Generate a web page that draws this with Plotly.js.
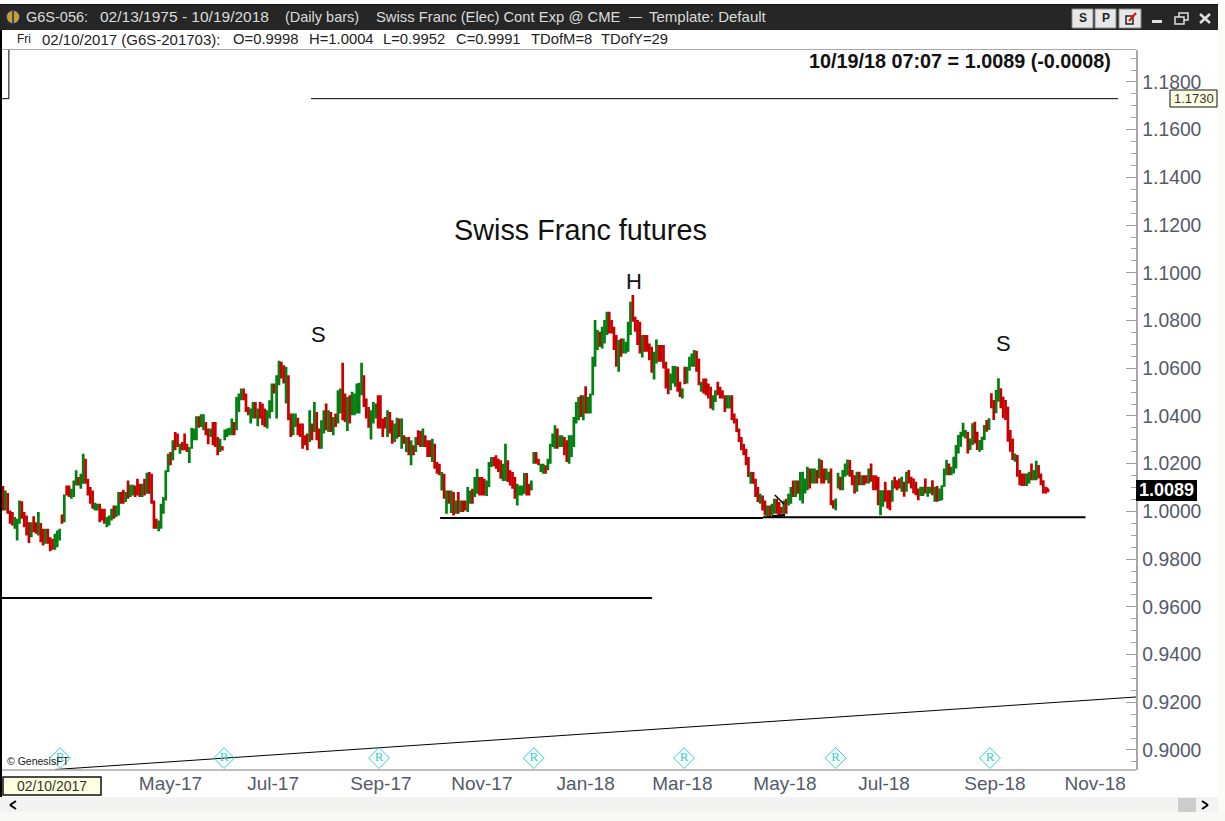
<!DOCTYPE html>
<html><head><meta charset="utf-8">
<script src="https://cdn.plot.ly/plotly-3.0.1.min.js"></script>
<style>html,body{margin:0;padding:0;background:#fff}#c{width:1225px;height:821px}</style>
</head><body><div id="c"></div>
<script>
const highs=[1.0106,1.0088,1.0077,1.0004,.9997,.9976,.9969,1.0046,1.0042,.9997,
.9983,.9955,.9955,.9980,.9955,.9997,.9951,.9927,.9927,.9927,
.9892,.9885,.9906,.9920,.9927,.9987,1.0071,1.0109,1.0109,1.0095,
1.0130,1.0172,1.0144,1.0158,1.0242,1.0221,1.0137,1.0102,1.0088,1.0036,
1.0032,1.0032,1.0011,1.0011,.9976,.9983,1.0011,1.0025,1.0025,1.0081,
1.0081,1.0091,1.0081,1.0130,1.0112,1.0112,1.0109,1.0137,1.0116,1.0116,
1.0137,1.0162,1.0165,1.0158,1.0046,.9969,.9962,1.0032,1.0060,1.0172,
1.0242,1.0249,1.0298,1.0333,1.0326,1.0284,1.0291,1.0326,1.0284,1.0270,
1.0351,1.0347,1.0399,1.0399,1.0407,1.0407,1.0375,1.0347,1.0347,1.0375,
1.0375,1.0312,1.0305,1.0273,1.0343,1.0347,1.0351,1.0389,1.0375,1.0480,
1.0494,1.0515,1.0515,1.0494,1.0438,1.0431,1.0459,1.0459,1.0431,1.0459,
1.0452,1.0431,1.0424,1.0466,1.0536,1.0536,1.0571,1.0631,1.0627,1.0613,
1.0606,1.0571,1.0410,1.0410,1.0410,1.0393,
1.0368,1.0368,1.0319,1.0326,1.0424,1.0368,1.0459,1.0417,1.0347,1.0382,
1.0424,1.0452,1.0424,1.0417,1.0396,1.0410,1.0508,1.0515,1.0623,1.0494,
1.0480,1.0487,1.0501,1.0494,1.0536,1.0539,1.0623,1.0571,1.0473,1.0438,
1.0424,1.0459,1.0452,1.0487,1.0487,1.0389,1.0396,1.0424,1.0417,1.0382,
1.0368,1.0393,1.0389,1.0389,1.0319,1.0312,1.0312,1.0298,1.0277,1.0312,
1.0340,1.0337,1.0347,1.0319,1.0298,1.0298,1.0305,1.0284,1.0207,1.0200,
1.0165,1.0158,1.0088,1.0088,1.0088,1.0081,1.0046,1.0081,1.0046,1.0046,
1.0046,1.0102,1.0088,1.0095,1.0144,1.0179,1.0144,1.0144,1.0137,1.0130,
1.0207,1.0228,1.0228,1.0235,1.0221,1.0214,1.0200,1.0284,1.0214,1.0172,
1.0165,1.0144,1.0116,1.0109,1.0109,1.0161,1.0161,1.0116,1.0130,1.0249,
1.0249,1.0221,1.0200,1.0200,1.0193,1.0221,1.0284,1.0326,1.0361,1.0347,
1.0319,1.0319,1.0312,1.0298,1.0319,
1.0319,1.0396,1.0459,1.0480,1.0487,1.0487,1.0525,1.0480,1.0494,1.0648,
1.0802,1.0760,1.0753,1.0774,1.0802,1.0837,1.0837,1.0802,1.0774,1.0739,
1.0718,1.0725,1.0725,1.0711,1.0795,1.0879,1.0907,1.0816,1.0802,1.0795,
1.0739,1.0739,1.0739,1.0704,1.0690,1.0669,1.0721,1.0697,1.0697,1.0697,
1.0627,1.0599,1.0578,1.0609,1.0609,1.0606,1.0543,1.0515,1.0606,1.0606,
1.0648,1.0662,1.0676,1.0673,1.0641,1.0543,1.0557,1.0557,1.0536,1.0522,
1.0487,1.0508,1.0543,1.0522,1.0508,1.0487,1.0487,1.0487,1.0487,1.0410,
1.0389,1.0347,1.0312,1.0284,1.0263,1.0228,1.0165,1.0165,1.0137,1.0102,
1.0074,1.0067,1.0046,1.0025,1.0025,1.0032,1.0053,1.0053,1.0039,1.0018,
1.0046,1.0053,1.0074,1.0102,1.0130,1.0130,1.0130,1.0165,
1.0166,1.0138,1.0187,1.0180,1.0180,1.0180,1.0173,1.0222,1.0215,1.0180,
1.0180,1.0166,1.0180,1.0047,1.0054,1.0162,1.0145,1.0173,1.0201,1.0218,
1.0215,1.0173,1.0152,1.0166,1.0166,1.0152,1.0152,1.0152,1.0180,1.0201,
1.0152,1.0152,1.0145,1.0089,1.0089,1.0124,1.0089,1.0089,1.0131,1.0145,
1.0131,1.0138,1.0145,1.0124,1.0166,1.0173,1.0145,1.0138,1.0124,1.0096,
1.0103,1.0103,1.0138,1.0103,1.0103,1.0131,1.0103,1.0106,1.0096,1.0110,
1.0180,1.0215,1.0201,1.0187,1.0229,1.0278,1.0320,1.0334,1.0372,1.0341,
1.0334,1.0306,1.0369,1.0376,1.0334,1.0299,1.0313,1.0362,1.0383,1.0390,
1.0495,1.0467,1.0509,1.0558,1.0516,1.0481,1.0467,1.0439,1.0341,1.0306,
1.0243,1.0236,1.0173,1.0159,1.0159,1.0159,1.0166,1.0201,1.0173,1.0212,
1.0194,1.0159,1.0131,1.0103,1.0096];
const lows=[1.0004,1.0004,.9990,.9948,.9941,.9927,.9878,.9948,.9969,.9934,
.9899,.9867,.9892,.9913,.9906,.9899,.9871,.9857,.9864,.9864,
.9833,.9839,.9839,.9850,.9878,.9948,.9955,1.0067,1.0060,1.0053,
1.0060,1.0109,1.0109,1.0095,1.0116,1.0116,1.0067,1.0032,1.0011,1.0004,
1.0004,.9955,.9962,.9948,.9934,.9941,.9962,.9969,.9976,.9983,
1.0032,1.0032,1.0039,1.0053,1.0060,1.0067,1.0060,1.0067,1.0060,1.0060,
1.0067,1.0074,1.0074,1.0032,.9927,.9927,.9917,.9927,.9990,1.0046,
1.0165,1.0193,1.0214,1.0256,1.0270,1.0242,1.0256,1.0256,1.0249,1.0203,
1.0263,1.0298,1.0298,1.0351,1.0354,1.0340,1.0319,1.0281,1.0312,1.0277,
1.0270,1.0235,1.0249,1.0256,1.0298,1.0312,1.0319,1.0319,1.0319,1.0340,
1.0417,1.0466,1.0466,1.0417,1.0403,1.0368,1.0389,1.0389,1.0357,1.0389,
1.0361,1.0354,1.0347,1.0389,1.0417,1.0494,1.0389,1.0529,1.0557,1.0536,
1.0452,1.0382,1.0312,1.0319,1.0354,1.0319,
1.0312,1.0263,1.0277,1.0256,1.0291,1.0298,1.0333,1.0298,1.0263,1.0263,
1.0326,1.0340,1.0333,1.0333,1.0319,1.0354,1.0368,1.0410,1.0382,1.0375,
1.0337,1.0368,1.0403,1.0403,1.0410,1.0410,1.0487,1.0438,1.0389,1.0351,
1.0301,1.0368,1.0389,1.0347,1.0347,1.0312,1.0347,1.0312,1.0326,1.0284,
1.0291,1.0305,1.0312,1.0263,1.0284,1.0249,1.0235,1.0193,1.0235,1.0249,
1.0277,1.0270,1.0270,1.0270,1.0228,1.0228,1.0207,1.0179,1.0158,1.0151,
1.0088,1.0053,.9990,1.0032,.9993,.9983,.9990,.9990,.9997,.9997,
1.0004,.9997,1.0032,1.0032,1.0060,1.0074,1.0067,1.0067,1.0067,1.0064,
1.0102,1.0186,1.0189,1.0179,1.0165,1.0137,1.0127,1.0127,1.0123,1.0109,
1.0095,1.0053,1.0025,1.0067,1.0067,1.0074,1.0067,1.0067,1.0088,1.0200,
1.0200,1.0193,1.0165,1.0158,1.0158,1.0172,1.0200,1.0270,1.0263,1.0263,
1.0270,1.0270,1.0235,1.0207,1.0200,
1.0228,1.0270,1.0368,1.0382,1.0396,1.0382,1.0410,1.0410,1.0410,1.0487,
1.0606,1.0676,1.0690,1.0683,1.0704,1.0739,1.0746,1.0746,1.0676,1.0606,
1.0585,1.0648,1.0662,1.0662,1.0669,1.0739,1.0795,1.0753,1.0697,1.0662,
1.0645,1.0669,1.0669,1.0634,1.0581,1.0553,1.0620,1.0627,1.0627,1.0599,
1.0515,1.0491,1.0508,1.0536,1.0522,1.0501,1.0480,1.0473,1.0533,1.0536,
1.0589,1.0606,1.0606,1.0585,1.0529,1.0501,1.0494,1.0487,1.0473,1.0431,
1.0424,1.0459,1.0487,1.0473,1.0473,1.0417,1.0431,1.0431,1.0382,1.0368,
1.0333,1.0291,1.0256,1.0235,1.0193,1.0144,1.0116,1.0116,1.0060,1.0039,
1.0032,1.0004,.9983,.9976,.9976,.9983,.9990,.9990,.9983,.9990,
.9990,.9990,1.0025,1.0032,1.0060,1.0060,1.0074,1.0046,
1.0033,1.0075,1.0089,1.0096,1.0117,1.0117,1.0117,1.0138,1.0117,1.0117,
1.0131,1.0117,1.0026,1.0012,1.0005,1.0096,1.0089,1.0089,1.0145,1.0152,
1.0145,1.0110,1.0075,1.0082,1.0110,1.0110,1.0110,1.0117,1.0117,1.0124,
1.0089,1.0089,1.0026,.9984,1.0019,1.0040,1.0012,1.0005,1.0040,1.0096,
1.0089,1.0096,1.0082,1.0061,1.0082,1.0117,1.0096,1.0075,1.0068,1.0047,
1.0064,1.0064,1.0075,1.0061,1.0075,1.0068,1.0040,1.0040,1.0044,1.0047,
1.0103,1.0152,1.0152,1.0152,1.0159,1.0180,1.0243,1.0271,1.0313,1.0306,
1.0243,1.0257,1.0278,1.0285,1.0257,1.0250,1.0257,1.0299,1.0334,1.0341,
1.0432,1.0383,1.0411,1.0460,1.0432,1.0390,1.0383,1.0292,1.0250,1.0215,
1.0208,1.0145,1.0110,1.0106,1.0106,1.0106,1.0117,1.0131,1.0131,1.0131,
1.0138,1.0110,1.0075,1.0075,1.0080];
const opens=[1.0095,1.0012,1.0068,.9996,.9985,.9935,.9900,.9960,1.0030,.9985,
.9970,.9940,.9900,.9970,.9945,.9915,.9940,.9915,.9875,.9915,
.9880,.9870,.9850,.9860,.9890,.9980,.9970,1.0100,1.0095,1.0065,
1.0070,1.0120,1.0135,1.0105,1.0135,1.0205,1.0125,1.0090,1.0075,1.0010,
1.0012,1.0020,1.0002,1.0000,.9942,.9950,.9970,1.0015,.9985,.9995,
1.0072,1.0080,1.0048,1.0118,1.0070,1.0075,1.0098,1.0125,1.0105,1.0070,
1.0125,1.0088,1.0155,1.0145,1.0030,.9960,.9925,.9940,1.0005,1.0060,
1.0178,1.0240,1.0225,1.0320,1.0315,1.0250,1.0282,1.0315,1.0275,1.0215,
1.0280,1.0305,1.0315,1.0390,1.0365,1.0350,1.0365,1.0335,1.0320,1.0360,
1.0365,1.0300,1.0258,1.0268,1.0305,1.0320,1.0325,1.0330,1.0365,1.0360,
1.0430,1.0475,1.0505,1.0480,1.0430,1.0378,1.0400,1.0450,1.0370,1.0448,
1.0440,1.0420,1.0358,1.0400,1.0435,1.0528,1.0410,1.0545,1.0618,1.0600,
1.0480,1.0555,1.0398,1.0330,1.0365,1.0382,
1.0358,1.0355,1.0310,1.0315,1.0310,1.0358,1.0355,1.0405,1.0335,1.0280,
1.0340,1.0440,1.0345,1.0405,1.0330,1.0400,1.0385,1.0425,1.0600,1.0480,
1.0350,1.0475,1.0415,1.0415,1.0430,1.0430,1.0505,1.0555,1.0460,1.0425,
1.0320,1.0380,1.0400,1.0475,1.0470,1.0378,1.0388,1.0325,1.0405,1.0370,
1.0305,1.0318,1.0378,1.0285,1.0310,1.0260,1.0300,1.0205,1.0268,1.0260,
1.0330,1.0325,1.0285,1.0310,1.0288,1.0285,1.0225,1.0270,1.0195,1.0190,
1.0100,1.0145,1.0010,1.0078,1.0010,1.0070,1.0000,1.0070,1.0005,1.0038,
1.0036,1.0015,1.0042,1.0085,1.0072,1.0090,1.0134,1.0132,1.0125,1.0075,
1.0120,1.0195,1.0220,1.0225,1.0212,1.0200,1.0140,1.0145,1.0205,1.0160,
1.0155,1.0130,1.0040,1.0077,1.0075,1.0085,1.0150,1.0108,1.0095,1.0210,
1.0240,1.0212,1.0172,1.0165,1.0185,1.0182,1.0215,1.0280,1.0275,1.0335,
1.0280,1.0280,1.0300,1.0285,1.0215,
1.0240,1.0290,1.0385,1.0395,1.0475,1.0395,1.0510,1.0420,1.0425,1.0505,
1.0630,1.0690,1.0740,1.0695,1.0720,1.0755,1.0825,1.0790,1.0762,1.0725,
1.0600,1.0715,1.0675,1.0670,1.0680,1.0760,1.0895,1.0805,1.0790,1.0780,
1.0660,1.0730,1.0728,1.0695,1.0680,1.0570,1.0635,1.0688,1.0688,1.0685,
1.0615,1.0585,1.0520,1.0550,1.0535,1.0595,1.0532,1.0485,1.0595,1.0550,
1.0600,1.0620,1.0620,1.0660,1.0630,1.0510,1.0548,1.0545,1.0525,1.0510,
1.0435,1.0470,1.0532,1.0512,1.0500,1.0475,1.0442,1.0445,1.0475,1.0402,
1.0380,1.0338,1.0303,1.0275,1.0250,1.0215,1.0125,1.0155,1.0125,1.0092,
1.0040,1.0056,1.0035,.9985,1.0015,.9992,1.0005,1.0042,1.0028,1.0012,
1.0002,1.0042,1.0035,1.0045,1.0120,1.0072,1.0120,1.0065,
1.0050,1.0085,1.0105,1.0170,1.0128,1.0130,1.0165,1.0150,1.0205,1.0170,
1.0140,1.0125,1.0170,1.0040,1.0015,1.0108,1.0135,1.0105,1.0155,1.0165,
1.0205,1.0162,1.0142,1.0095,1.0155,1.0118,1.0145,1.0143,1.0128,1.0190,
1.0142,1.0142,1.0135,1.0000,1.0030,1.0115,1.0080,1.0080,1.0055,1.0135,
1.0122,1.0130,1.0095,1.0115,1.0095,1.0162,1.0136,1.0128,1.0115,1.0088,
1.0072,1.0072,1.0128,1.0070,1.0082,1.0120,1.0050,1.0098,1.0055,1.0058,
1.0120,1.0165,1.0192,1.0160,1.0172,1.0200,1.0260,1.0285,1.0328,1.0315,
1.0322,1.0268,1.0295,1.0365,1.0325,1.0260,1.0268,1.0315,1.0375,1.0355,
1.0485,1.0455,1.0430,1.0475,1.0505,1.0470,1.0455,1.0425,1.0330,1.0295,
1.0215,1.0225,1.0165,1.0150,1.0150,1.0115,1.0125,1.0190,1.0140,1.0145,
1.0185,1.0150,1.0122,1.0095,1.0094];
const closes=[1.0015,1.0078,1.0000,.9956,.9950,.9968,.9960,1.0035,.9980,.9945,
.9910,.9878,.9945,.9922,.9915,.9985,.9880,.9868,.9918,.9875,
.9842,.9850,.9895,.9910,.9918,.9955,1.0060,1.0075,1.0068,1.0085,
1.0120,1.0160,1.0118,1.0145,1.0228,1.0125,1.0078,1.0042,1.0020,1.0028,
1.0025,.9965,.9972,.9958,.9968,.9975,1.0002,.9978,1.0016,1.0070,
1.0040,1.0042,1.0072,1.0062,1.0102,1.0104,1.0068,1.0075,1.0070,1.0105,
1.0076,1.0150,1.0085,1.0040,.9938,.9935,.9952,1.0020,1.0050,1.0158,
1.0232,1.0202,1.0285,1.0265,1.0280,1.0275,1.0265,1.0265,1.0258,1.0260,
1.0340,1.0338,1.0385,1.0360,1.0398,1.0395,1.0328,1.0292,1.0338,1.0288,
1.0280,1.0245,1.0295,1.0260,1.0335,1.0340,1.0342,1.0380,1.0330,1.0470,
1.0485,1.0505,1.0475,1.0425,1.0410,1.0420,1.0450,1.0398,1.0420,1.0398,
1.0372,1.0362,1.0415,1.0455,1.0525,1.0500,1.0560,1.0618,1.0565,1.0545,
1.0595,1.0395,1.0322,1.0400,1.0400,1.0328,
1.0320,1.0272,1.0285,1.0265,1.0412,1.0308,1.0448,1.0310,1.0272,1.0372,
1.0412,1.0350,1.0412,1.0340,1.0385,1.0362,1.0495,1.0505,1.0392,1.0385,
1.0470,1.0378,1.0490,1.0482,1.0525,1.0528,1.0612,1.0450,1.0398,1.0360,
1.0412,1.0450,1.0440,1.0358,1.0358,1.0320,1.0355,1.0412,1.0335,1.0295,
1.0358,1.0382,1.0320,1.0378,1.0292,1.0302,1.0245,1.0288,1.0242,1.0302,
1.0285,1.0280,1.0338,1.0278,1.0238,1.0236,1.0295,1.0188,1.0165,1.0160,
1.0155,1.0062,1.0078,1.0040,1.0075,.9992,1.0038,.9998,1.0038,1.0005,
1.0012,1.0090,1.0078,1.0042,1.0135,1.0168,1.0075,1.0075,1.0075,1.0122,
1.0198,1.0220,1.0195,1.0188,1.0172,1.0146,1.0190,1.0275,1.0130,1.0118,
1.0102,1.0062,1.0105,1.0100,1.0102,1.0150,1.0075,1.0075,1.0122,1.0242,
1.0208,1.0200,1.0192,1.0192,1.0165,1.0214,1.0272,1.0318,1.0352,1.0272,
1.0310,1.0310,1.0245,1.0215,1.0310,
1.0310,1.0385,1.0450,1.0470,1.0405,1.0472,1.0420,1.0470,1.0485,1.0640,
1.0790,1.0750,1.0700,1.0765,1.0792,1.0828,1.0755,1.0755,1.0685,1.0615,
1.0708,1.0660,1.0715,1.0702,1.0785,1.0868,1.0805,1.0760,1.0705,1.0670,
1.0728,1.0678,1.0678,1.0642,1.0590,1.0660,1.0712,1.0636,1.0636,1.0610,
1.0525,1.0500,1.0570,1.0600,1.0600,1.0510,1.0488,1.0510,1.0542,1.0598,
1.0640,1.0655,1.0668,1.0595,1.0540,1.0535,1.0502,1.0495,1.0482,1.0440,
1.0480,1.0500,1.0495,1.0482,1.0480,1.0425,1.0480,1.0480,1.0390,1.0376,
1.0342,1.0300,1.0265,1.0243,1.0202,1.0152,1.0160,1.0124,1.0068,1.0047,
1.0068,1.0012,.9992,1.0018,.9985,1.0025,1.0045,.9998,.9992,.9996,
1.0040,.9998,1.0068,1.0095,1.0068,1.0125,1.0082,1.0155,
1.0158,1.0130,1.0178,1.0105,1.0172,1.0172,1.0125,1.0214,1.0125,1.0125,
1.0172,1.0160,1.0035,1.0020,1.0045,1.0155,1.0098,1.0165,1.0192,1.0210,
1.0153,1.0118,1.0085,1.0158,1.0118,1.0145,1.0118,1.0125,1.0172,1.0132,
1.0098,1.0098,1.0035,1.0080,1.0080,1.0050,1.0020,1.0012,1.0122,1.0105,
1.0098,1.0105,1.0135,1.0070,1.0158,1.0125,1.0105,1.0085,1.0076,1.0055,
1.0095,1.0095,1.0085,1.0095,1.0095,1.0075,1.0095,1.0048,1.0088,1.0102,
1.0172,1.0208,1.0160,1.0180,1.0222,1.0270,1.0312,1.0326,1.0364,1.0335,
1.0252,1.0298,1.0360,1.0295,1.0265,1.0290,1.0305,1.0355,1.0342,1.0382,
1.0440,1.0392,1.0500,1.0550,1.0440,1.0398,1.0392,1.0300,1.0258,1.0222,
1.0235,1.0152,1.0118,1.0112,1.0112,1.0152,1.0158,1.0140,1.0165,1.0205,
1.0145,1.0118,1.0082,1.0080,1.0089];
const barIndex=highs.map((_,i)=>i);

const xTickIdx=[26,71,114.5,160.2,203,247,288,331.5,373.5,420.5,463];
const xTickLabels=['Mar-17','May-17','Jul-17','Sep-17','Nov-17','Jan-18','Mar-18','May-18','Jul-18','Sep-18','Nov-18'];
const rollIdx=[24.2,93.7,159.4,225,288.7,353,418.4];
const rollPrice=[.8966,.8966,.8966,.8966,.8966,.8966,.8966];
const topLineX=[130.6,472.7], topLineY=[1.1730,1.1730];
const bracketX=[-0.5,2.5,2.5], bracketY=[1.1730,1.1730,1.1934];
const neck1X=[185.3,322.2], neck1Y=[.9972,.9972];
const neck2X=[322.2,458.9], neck2Y=[.9975,.9975];
const lowLineX=[-0.5,275.1], lowLineY=[.9637,.9637];
const riseLineX=[22,480.3], riseLineY=[.8918,.9222];
const smallMarkX=[327.2,331], smallMarkY=[1.0069,1.0031];
const smallBaseX=[326,331.5], smallBaseY=[.9979,.9985];

const X=x=>(x-2)/1134, Y=y=>(770-y)/720;
const rect=(x0,y0,x1,y1,fill,line,w)=>({type:'rect',xref:'paper',yref:'paper',layer:'above',x0:X(x0),x1:X(x1),y0:Y(y0),y1:Y(y1),fillcolor:fill,line:{color:line||fill,width:line?(w||1):0}});
const seg=(x0,y0,x1,y1,c,w)=>({type:'line',xref:'paper',yref:'paper',layer:'above',x0:X(x0),x1:X(x1),y0:Y(y0),y1:Y(y1),line:{color:c,width:w||1}});
const txt=(s,x,y,size,color,anchor,bold,fam)=>({text:bold?'<b>'+s+'</b>':s,x:X(x),y:Y(y),xref:'paper',yref:'paper',xanchor:anchor||'left',yanchor:'middle',showarrow:false,borderpad:0,font:{family:fam||'Liberation Sans',size:size,color:color}});

const shapes=[
 rect(0,4,1218,5.5,'#111'),
 rect(0,5,1218,30,'#262626'),
 rect(1218,4,1225,821,'#fbfbf8'),
 rect(0,30,1218,49,'#ffffff'),
 seg(0,49.5,1136,49.5,'#a8a8a8',1),
 rect(0,30,2,797,'#000000'),
 rect(0,797,1218,812,'#f3f3f1'),
 rect(0,812,1225,821,'#f8f8f5'),
 rect(1178,798,1196,812,'#cccccc'),
 {type:'circle',xref:'paper',yref:'paper',layer:'above',x0:X(6),x1:X(20),y0:Y(10),y1:Y(24),fillcolor:'#c7a030',line:{color:'#1d2b5a',width:1.5}},
 seg(13,11,13,23,'#1d2b5a',1.5),
 rect(1072,9,1093,28,'#e8e8e8','#8a8a8a'),
 rect(1095,9,1116,28,'#e8e8e8','#8a8a8a'),
 rect(1119,9,1141,28,'#e8e8e8','#8a8a8a'),
 rect(1126,16,1133,24,'#e8e8e8','#222',1.5),
 seg(1129,21,1136,13,'#e01010',2),
 rect(1152,20,1162,23,'#e0e0e0'),
 rect(1179,13,1188,20,'#262626','#e0e0e0',1.5),
 rect(1175,17,1184,24,'#262626','#e0e0e0',1.5),
 seg(1200,14,1210,23,'#e0e0e0',2.5),
 seg(1210,14,1200,23,'#e0e0e0',2.5),
 rect(1136,480,1197,501,'#000000'),
 rect(1170,90,1217,107,'#ffffe1','#111',1),
 rect(3,777,101,795,'#ffffe1','#111',1.5),
];
const chev=[[16,801,10,805],[10,805,16,809],[1202,801,1208,805],[1208,805,1202,809]];
chev.forEach(c=>shapes.push(seg(c[0],c[1],c[2],c[3],'#000',2)));

const H='#dcdcdc', I='#222222';
const annotations=[
 txt('G6S-056:',25,17,14.5,H), txt('02/13/1975 - 10/19/2018',99,17,15.5,H), txt('(Daily bars)',284,17,14.5,H),
 txt('Swiss Franc (Elec) Cont Exp @ CME',375,17,14.8,H), txt('—',628,17,13,H), txt('Template: Default',648,17,15,H),
 txt('S',1082.5,18,12,'#222','center',true), txt('P',1105.5,18,12,'#222','center',true),
 txt('Fri',16,39,12,I), txt('02/10/2017 (G6S-201703):',41,39,15,I), txt('O=0.9998',232,39,14.8,I),
 txt('H=1.0004',308,39,14.8,I), txt('L=0.9952',382,39,14.8,I), txt('C=0.9991',455,39,14.8,I),
 txt('TDofM=8',530,39,14.8,I), txt('TDofY=29',600,39,14.8,I),
 txt('10/19/18 07:07 = 1.0089 (-0.0008)',1112,61,19.8,'#111','right',true),
 txt('Swiss Franc futures',580.5,230,28.8,'#111','center'),
 txt('S',318,334,22,'#111','center'), txt('H',634,281,22,'#111','center'), txt('S',1003,343,22,'#111','center'),
 txt('1.0089',1166.5,490.5,18,'#ffffff','center',true),
 txt('1.1730',1193.5,98.5,13,'#333','center'),
 txt('02/10/2017',52,786,14,'#333','center'),
 txt('© GenesisFT',6,761,10.5,'#222'),
];

const tl=(x,y,w)=>({type:'scatter',mode:'lines',x:x,y:y,line:{color:'#000',width:w},hoverinfo:'skip',showlegend:false});
const data=[
 {type:'ohlc',x:barIndex,open:opens,high:highs,low:lows,close:closes,tickwidth:0.5,
  increasing:{line:{color:'#008010',width:2.7}},decreasing:{line:{color:'#c80000',width:2.7}},showlegend:false},
 tl(topLineX,topLineY,1),tl(bracketX,bracketY,1),tl(neck1X,neck1Y,2),tl(neck2X,neck2Y,2),tl(lowLineX,lowLineY,2),tl(riseLineX,riseLineY,1),
 tl(smallMarkX,smallMarkY,1.5),tl(smallBaseX,smallBaseY,2.5),
 {type:'scatter',mode:'markers+text',x:rollIdx,y:rollPrice,text:rollIdx.map(()=>'R'),textposition:'middle center',
  textfont:{family:'Liberation Serif',size:13,color:'#30d0d0'},marker:{symbol:'diamond-open',size:16,color:'#30d0d0',line:{width:1,color:'#30d0d0'}},showlegend:false,hoverinfo:'skip'},
];
const layout={width:1225,height:821,margin:{l:2,r:89,t:50,b:51},paper_bgcolor:'#ffffff',plot_bgcolor:'#ffffff',showlegend:false,
 font:{family:'Liberation Sans'},
 xaxis:{type:'linear',range:[-0.42,480.3],tickvals:xTickIdx,ticktext:xTickLabels,ticks:'',showgrid:false,zeroline:false,showline:false,
  tickfont:{family:'Liberation Sans',size:19,color:'#555a68'},rangeslider:{visible:false},fixedrange:true},
 yaxis:{side:'right',range:[.8916,1.1934],tick0:.9,dtick:.02,tickformat:'.4f',ticks:'inside',ticklen:10,tickwidth:1,tickcolor:'#a0a0a0',
  minor:{dtick:.005,ticks:'inside',ticklen:5,tickcolor:'#a0a0a0',tickwidth:1,showgrid:false},showgrid:false,zeroline:false,showline:true,linecolor:'#a8a8a8',linewidth:1.5,
  ticklabelstandoff:1,tickfont:{family:'Liberation Sans',size:19.3,color:'#555a68'},fixedrange:true},
 shapes:shapes.concat([seg(2,770,1136,770,'#a8a8a8',1.5)]),annotations:annotations};
Plotly.newPlot('c',data,layout,{displayModeBar:false,staticPlot:true});
</script></body></html>
